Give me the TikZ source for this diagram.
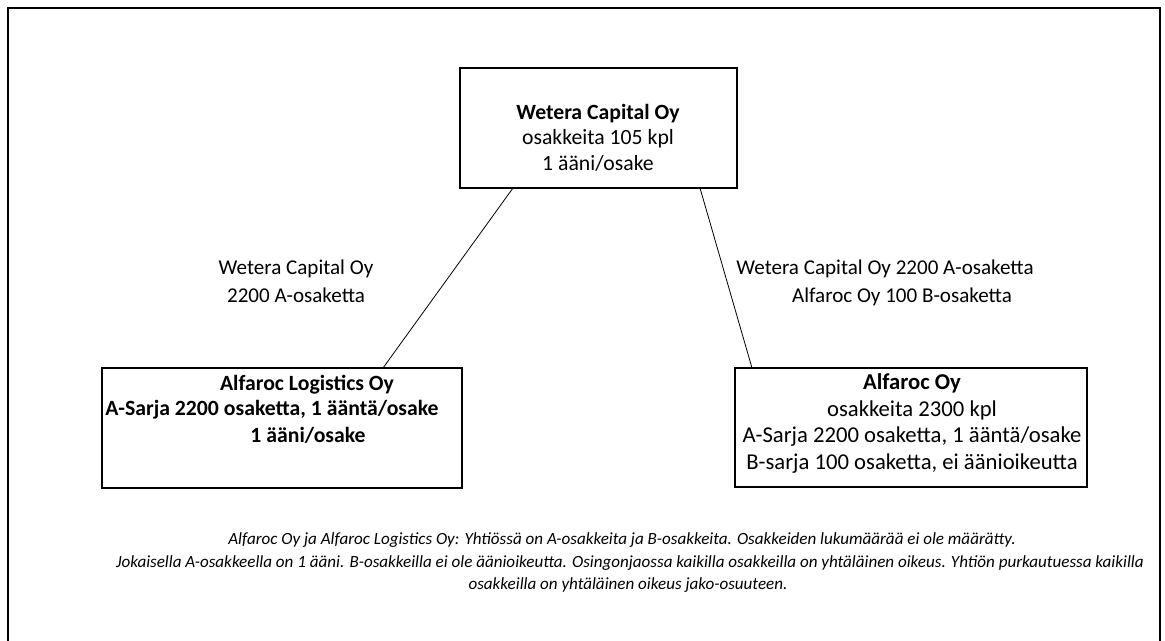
\documentclass[tikz,border=0pt]{standalone}
\usepackage{fontspec}
\setmainfont{Carlito}
\usetikzlibrary{positioning}

\begin{document}
\begin{tikzpicture}[x=0.75pt,y=-0.75pt,
    firm/.style={draw,line width=2.2pt,inner sep=0pt},
    txt/.style={font=\fontsize{16.3}{19}\selectfont,inner sep=0pt},
    big/.style={font=\fontsize{17}{20}\selectfont,inner sep=0pt},
    lab/.style={font=\fontsize{15.8}{19}\selectfont,inner sep=0pt},
    note/.style={font=\fontsize{12.8}{15}\selectfont\itshape,inner sep=0pt}]
  \useasboundingbox (0,0) rectangle (1165,640);
  \clip (0,0) rectangle (1165,640);
  % frame
  \draw[line width=2pt] (8,700) -- (8,8) -- (1160,8) -- (1160,700);
  % boxes
  \node[firm,minimum width=207.75pt,minimum height=90pt] (wetera) at (598.5,128) {};
  \node[firm,minimum width=270pt,minimum height=90pt] (logistics) at (282,428) {};
  \node[firm,minimum width=264pt,minimum height=89.25pt] (alfaroc) at (911,427.5) {};
  % texts
  \node[txt] (w1) at (598,114) {\bfseries Wetera Capital Oy};
  \node[txt] (w2) at (598,139) {osakkeita 105 kpl};
  \node[txt] (w3) at (598,163) {1 ääni/osake};
  \node[txt] (l1) at (307,385) {\bfseries Alfaroc Logistics Oy};
  \node[txt] (l2) at (272,410) {\bfseries A-Sarja 2200 osaketta, 1 ääntä/osake};
  \node[txt] (l3) at (308,435) {\bfseries 1 ääni/osake};
  \node[big] (a1) at (912,383) {\bfseries Alfaroc Oy};
  \node[big] (a2) at (912,410) {osakkeita 2300 kpl};
  \node[big] (a3) at (912,437) {A-Sarja 2200 osaketta, 1 ääntä/osake};
  \node[big] (a4) at (912,464) {B-sarja 100 osaketta, ei äänioikeutta};
  % owners
  \node[lab] (ol1) at (296,269) {Wetera Capital Oy};
  \node[lab] (ol2) at (296,295) {2200 A-osaketta};
  \node[lab] (or1) at (885,269) {Wetera Capital Oy 2200 A-osaketta};
  \node[lab] (or2) at (902,297) {Alfaroc Oy 100 B-osaketta};
  % lines
  \coordinate (wl) at (513,188);
  \coordinate (wr) at (700,188);
  \coordinate (ll) at (383,368);
  \coordinate (ar) at (752,368);
  \draw[line width=0.6pt] (wl) -- (ll);
  \draw[line width=0.6pt] (wr) -- (ar);
  % notes
  \node[note] (n1) at (622,540) {Alfaroc Oy ja Alfaroc Logistics Oy: Yhtiössä on A-osakkeita ja B-osakkeita. Osakkeiden lukumäärää ei ole määrätty.};
  \node[note] (n2) at (630,563) {Jokaisella A-osakkeella on 1 ääni. B-osakkeilla ei ole äänioikeutta. Osingonjaossa kaikilla osakkeilla on yhtäläinen oikeus. Yhtiön purkautuessa kaikilla};
  \node[note] (n3) at (628,585) {osakkeilla on yhtäläinen oikeus jako-osuuteen.};
\end{tikzpicture}
\end{document}
